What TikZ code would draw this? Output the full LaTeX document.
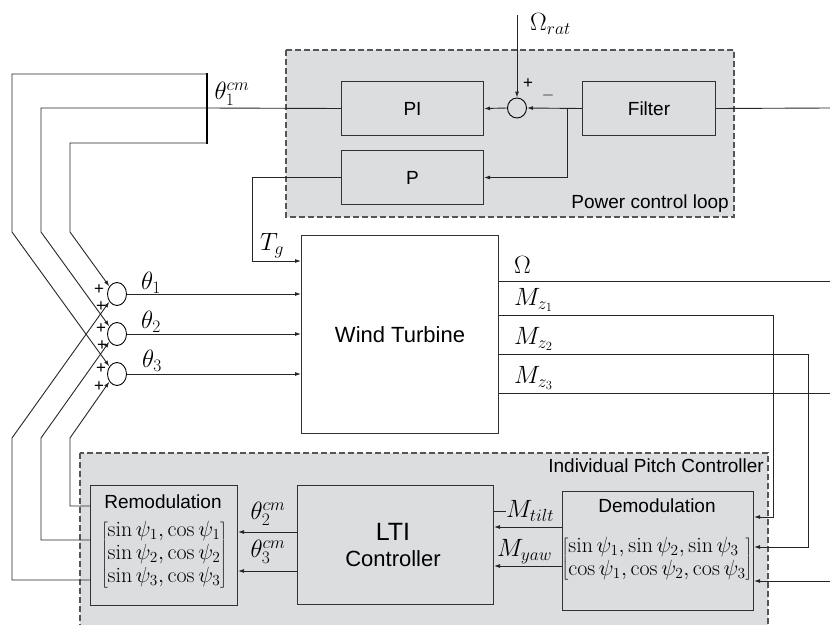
\RequirePackage{fix-cm}
\documentclass[tikz,border=0pt]{standalone}
\usepackage{fontspec}
\setsansfont{Liberation Sans}
\usetikzlibrary{arrows.meta,shapes.geometric}
\definecolor{panel}{RGB}{220,221,223}
\definecolor{edgec}{RGB}{50,50,50}
\definecolor{grpc}{RGB}{85,85,85}
\begin{document}
\begin{tikzpicture}[x=1pt,y=-1pt,
  blk/.style={draw=edgec,line width=1pt,fill=panel,inner sep=0pt,anchor=north west},
  grp/.style={draw=grpc,dash pattern=on 6pt off 3pt,line width=1.1pt,fill=panel},
  wire/.style={draw=black!85,line width=0.9pt},
  arr/.style={wire,-{Latex[length=6pt,width=4pt]}},
  lbl/.style={font=\sffamily\fontsize{19}{21}\selectfont,inner sep=0pt},
  mlbl/.style={font=\fontsize{25}{27}\selectfont,inner sep=0pt},
  mat/.style={font=\fontsize{22}{23}\selectfont,inner sep=0pt},
  sumj/.style={draw=black,line width=0.9pt,ellipse,inner sep=0pt},
  pls/.style={font=\sffamily\fontsize{17}{17}\selectfont,inner sep=0pt}
]
\useasboundingbox (0,0) rectangle (830,624);

% group panels
\draw[grp] (286,50) rectangle (734,217);
\draw[grp] (80,453) rectangle (768,640);
\node[lbl,anchor=east] (pcl) at (729,204) {Power control loop};
\node[lbl,anchor=east] (ipcl) at (764,466) {Individual Pitch Controller};

% blocks
\node[blk,minimum width=142pt,minimum height=54pt] (PI) at (341,81) {};
\node[lbl] at (PI.center) {PI};
\node[blk,minimum width=142pt,minimum height=54pt] (P) at (341,150) {};
\node[lbl] at (P.center) {P};
\node[blk,minimum width=133pt,minimum height=54pt] (Filter) at (582,81) {};
\node[lbl] at (Filter.center) {Filter};
\node[blk,fill=white,minimum width=197pt,minimum height=198pt] (WT) at (301,235) {};
\node[lbl,font=\sffamily\fontsize{22}{24}\selectfont] at (WT.center) {Wind Turbine};
\node[blk,minimum width=147pt,minimum height=120pt] (Remod) at (90,485) {};
\node[blk,minimum width=196pt,minimum height=119pt] (LTI) at (297,485) {};
\node[blk,minimum width=191pt,minimum height=119pt] (Demod) at (562,491) {};

\node[lbl] (remt) at (163,502) {Remodulation};
\node[mat] (remm) at (164,555) {$\left[\begin{array}{@{}l@{}}\sin\psi_1{,}\cos\psi_1\\ \sin\psi_2{,}\cos\psi_2\\ \sin\psi_3{,}\cos\psi_3\end{array}\right]$};
\node[lbl,font=\sffamily\fontsize{25}{27}\selectfont] (ltit) at (393,532) {LTI};
\node[lbl,font=\sffamily\fontsize{22}{24}\selectfont] (ltic) at (393,559) {Controller};
\node[lbl] (demt) at (657,506) {Demodulation};
\node[mat] (demm) at (657,559) {$\left[\begin{array}{@{}l@{}}\sin\psi_1,\sin\psi_2,\sin\psi_3\\ \cos\psi_1{,}\cos\psi_2{,}\cos\psi_3\end{array}\right]$};

% power loop sum
\node[sumj,fill=panel,minimum width=19pt,minimum height=20pt] (s0) at (517,108) {};
\coordinate (omtop) at (517,15);
\draw[arr] (omtop) -- (s0.north);
\node[mlbl,anchor=west] (omr) at (530,24) {$\Omega_{rat}$};
\node[pls] at (528,84) {+};
\node[mlbl,font=\fontsize{16}{16}\selectfont] at (548,95) {$-$};
\coordinate (fin) at (830,108);
\draw[wire] (fin) -- (Filter.east);
\draw[arr] (Filter.west) -- (s0.east);
\coordinate (br) at (567,108);
\draw[arr] (br) |- (P.east);
\draw[arr] (s0.west) -- (PI.east);

% collective bar
\coordinate (bartop) at (207,73);
\coordinate (barbot) at (207,144);
\coordinate (bar1) at (207,74);
\coordinate (bar2) at (207,108);
\coordinate (bar3) at (207,143);
\draw[wire] (PI.west) -- (bar2);
\draw[line width=2.6pt] (bartop) -- (barbot);
\node[mlbl] (t1cm) at (232,94) {$\theta_1^{cm}$};

% blade sums
\node[sumj,fill=white,minimum width=19pt,minimum height=23pt] (c1) at (117,294) {};
\node[sumj,fill=white,minimum width=19pt,minimum height=23pt] (c2) at (117,334) {};
\node[sumj,fill=white,minimum width=19pt,minimum height=23pt] (c3) at (117,374) {};

\draw[arr] (bar1) -- (12,74) -- (12,232) -- (c3.135);
\draw[arr] (bar2) -- (41,108) -- (41,232) -- (c2.135);
\draw[arr] (bar3) -- (70,143) -- (70,232) -- (c1.135);

\coordinate (w1) at (12,580);
\coordinate (w2) at (41,540);
\coordinate (w3) at (70,506);
\draw[arr] (Remod.west |- w1) -- (w1) -- (12,438) -- (c1.225);
\draw[arr] (Remod.west |- w2) -- (w2) -- (41,438) -- (c2.225);
\draw[arr] (Remod.west |- w3) -- (w3) -- (70,438) -- (c3.225);

\node[pls] at (99,290) {+};
\node[pls] at (101,307) {+};
\node[pls] at (101,329) {+};
\node[pls] at (102,346) {+};
\node[pls] at (101,369) {+};
\node[pls] at (99,387) {+};

\draw[arr] (c1.east) -- (WT.west |- c1.east);
\draw[arr] (c2.east) -- (WT.west |- c2.east);
\draw[arr] (c3.east) -- (WT.west |- c3.east);
\node[mlbl] (th1) at (151,283) {$\theta_1$};
\node[mlbl] (th2) at (151,322) {$\theta_2$};
\node[mlbl] (th3) at (152,361) {$\theta_3$};

% generator torque
\coordinate (tg) at (252,261);
\draw[arr] (P.west) -| (tg) -- (WT.west |- tg);
\node[mlbl] (tgl) at (272,246) {$T_g$};

% turbine outputs
\coordinate (o1) at (830,281);
\draw[wire] (WT.east |- o1) -- (o1);
\node[mlbl,anchor=west] (oml) at (514,265) {$\Omega$};
\coordinate (k1) at (773,315);
\coordinate (k1b) at (773,517);
\draw[arr] (WT.east |- k1) -- (k1) -- (k1b) -- (Demod.east |- k1b);
\node[mlbl,anchor=west] (mz1) at (514,300) {$M_{z_1}$};
\coordinate (k2) at (808,354);
\coordinate (k2b) at (808,547);
\draw[arr] (WT.east |- k2) -- (k2) -- (k2b) -- (Demod.east |- k2b);
\node[mlbl,anchor=west] (mz2) at (514,339) {$M_{z_2}$};
\coordinate (o3) at (830,393);
\draw[wire] (WT.east |- o3) -- (o3);
\node[mlbl,anchor=west] (mz3) at (514,378) {$M_{z_3}$};
\coordinate (bin) at (830,581);
\draw[arr] (bin) -- (Demod.east |- bin);

% IPC internal signals
\coordinate (mt) at (530,527);
\draw[arr] (Demod.west |- mt) -- (LTI.east |- mt);
\node[mlbl,anchor=west] (mtl) at (506,511) {$M_{tilt}$};
\draw[wire] (LTI.east |- mtl.west) -- (mtl.west);
\coordinate (my) at (530,566);
\draw[arr] (Demod.west |- my) -- (LTI.east |- my);
\node[mlbl,anchor=west] (myl) at (497,552) {$M_{yaw}$};

\coordinate (q2) at (268,532);
\draw[arr] (LTI.west |- q2) -- (Remod.east |- q2);
\node[mlbl] (th2cm) at (268,514) {$\theta_2^{cm}$};
\coordinate (q3) at (268,571);
\draw[arr] (LTI.west |- q3) -- (Remod.east |- q3);
\node[mlbl] (th3cm) at (268,552) {$\theta_3^{cm}$};
\end{tikzpicture}
\end{document}
